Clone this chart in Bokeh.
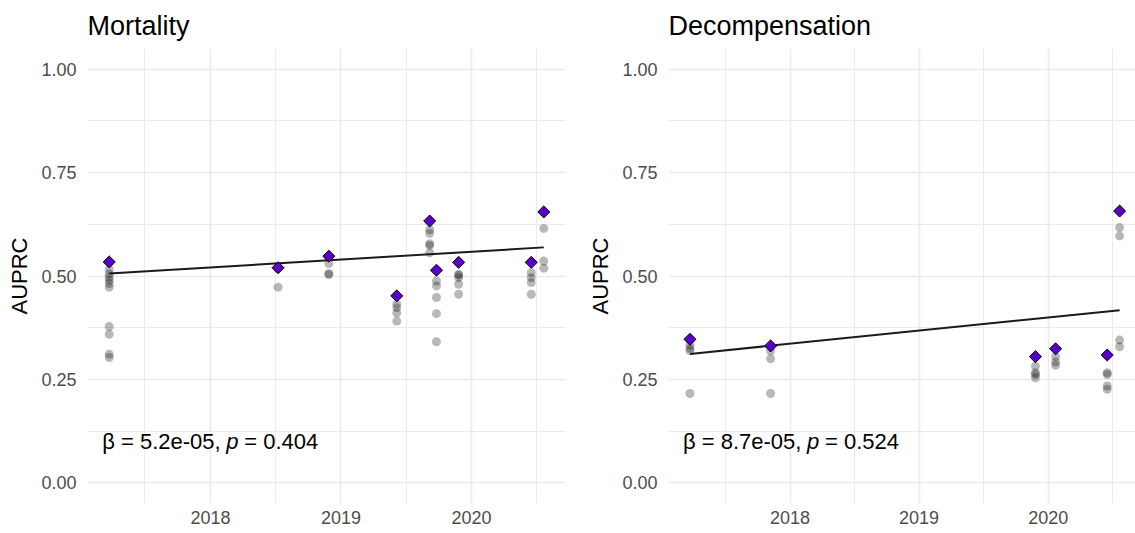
import datetime as dt
import numpy as np
from bokeh.plotting import figure
from bokeh.models import Range1d, FixedTicker, DatetimeTickFormatter, Label, NumeralTickFormatter
from bokeh.layouts import row
from bokeh.embed import file_html
from bokeh.resources import INLINE

# ---------------- data ----------------
mort_dates = ["2017-03-24", "2018-07-09", "2018-11-28", "2019-06-06", "2019-09-06",
              "2019-09-25", "2019-11-26", "2020-06-16", "2020-07-21"]
mort_best = [0.534, 0.520, 0.548, 0.452, 0.633, 0.514, 0.533, 0.533, 0.655]
mort_other = [
    [0.516, 0.505, 0.497, 0.490, 0.482, 0.473, 0.378, 0.359, 0.311, 0.303],
    [0.518, 0.473],
    [0.545, 0.530, 0.506, 0.503],
    [0.432, 0.423, 0.411, 0.391],
    [0.612, 0.603, 0.578, 0.574, 0.556],
    [0.488, 0.476, 0.448, 0.409, 0.341],
    [0.504, 0.502, 0.496, 0.480, 0.456],
    [0.508, 0.496, 0.484, 0.456],
    [0.615, 0.536, 0.519],
]
mort_beta = 5.2e-05
mort_p = 0.404

dec_dates = ["2017-03-24", "2017-11-07", "2019-11-26", "2020-01-22", "2020-06-16", "2020-07-21"]
dec_best = [0.347, 0.331, 0.305, 0.324, 0.309, 0.657]
dec_other = [
    [0.333, 0.325, 0.319, 0.216],
    [0.319, 0.300, 0.216],
    [0.282, 0.266, 0.262, 0.254],
    [0.305, 0.292, 0.284],
    [0.266, 0.262, 0.234, 0.226],
    [0.617, 0.597, 0.345, 0.329],
]
dec_beta = 8.7e-05
dec_p = 0.524

year_ticks = ["2018-01-01", "2019-01-01", "2020-01-01"]
year_minor = ["2017-07-02", "2018-07-02", "2019-07-02", "2020-07-02"]
y_ticks = [0.0, 0.25, 0.5, 0.75, 1.0]
y_minor = [0.125, 0.375, 0.625, 0.875]

FONT = "Liberation Sans"
GRID = "#EBEBEB"
PURPLE = "#5B00C9"
EPOCH = dt.datetime(1970, 1, 1)
DAY_MS = 86400000.0


def ms(s):
    return (dt.datetime.fromisoformat(s) - EPOCH).total_seconds() * 1000.0


def make_panel(title, dates, best, other, beta, pval, width, border_left, border_right, end_frac):
    t = np.array([ms(d) for d in dates])
    span = t.max() - t.min()
    p = figure(width=width, height=533, x_axis_type="datetime",
               output_backend="svg", toolbar_location=None,
               min_border_left=border_left, min_border_right=border_right,
               min_border_top=47, min_border_bottom=30,
               x_range=Range1d(t.min() - 0.05 * span, t.max() + end_frac * span),
               y_range=Range1d(-0.05, 1.05))
    p.outline_line_color = None
    p.background_fill_color = "white"
    p.border_fill_color = "white"

    p.title.text = title
    p.title.text_font = FONT
    p.title.text_font_size = "27px"
    p.title.text_font_style = "normal"
    p.title.text_color = "black"
    p.title.standoff = 16

    p.xaxis.ticker = FixedTicker(ticks=[ms(d) for d in year_ticks],
                                 minor_ticks=[ms(d) for d in year_minor])
    fmt = "%Y"
    p.xaxis.formatter = DatetimeTickFormatter(
        years=fmt, months=fmt, days=fmt, hours=fmt, minutes=fmt, seconds=fmt,
        milliseconds=fmt, microseconds=fmt, hourmin=fmt, minsec=fmt)
    p.yaxis.ticker = FixedTicker(ticks=y_ticks, minor_ticks=y_minor)
    p.yaxis.formatter = NumeralTickFormatter(format="0.00")
    for ax in (p.xaxis[0], p.yaxis[0]):
        ax.axis_line_color = None
        ax.major_tick_line_color = None
        ax.minor_tick_line_color = None
        ax.major_tick_out = 0
        ax.minor_tick_out = 0
        ax.major_tick_in = 0
        ax.minor_tick_in = 0
        ax.major_label_text_font = FONT
        ax.major_label_text_font_size = "18px"
        ax.major_label_text_color = "#4D4D4D"
    p.xaxis.major_label_standoff = 7
    p.yaxis.major_label_standoff = 11
    p.yaxis.axis_label = "AUPRC"
    p.yaxis.axis_label_text_font = FONT
    p.yaxis.axis_label_text_font_size = "22px"
    p.yaxis.axis_label_text_font_style = "normal"
    p.yaxis.axis_label_text_color = "black"
    p.yaxis.axis_label_standoff = 6

    for g in (p.xgrid[0], p.ygrid[0]):
        g.grid_line_color = GRID
        g.grid_line_width = 1.6
        g.minor_grid_line_color = GRID
        g.minor_grid_line_width = 1.0

    # all other models (grey points)
    gx, gy = [], []
    for ti, vals in zip(t, other):
        gx += [ti] * len(vals)
        gy += vals
    p.scatter(gx, gy, size=9, fill_color="black", fill_alpha=0.28, line_color=None)

    # regression line with the reported slope through the mean of the best models
    days = (t - t.mean()) / DAY_MS
    yb = np.array(best)
    fit = yb.mean() + beta * days
    p.line([t.min(), t.max()], [fit[np.argmin(t)], fit[np.argmax(t)]],
           line_color="#1A1A1A", line_width=2)

    # best model per date
    p.scatter(t, best, marker="square", angle=np.pi / 4, size=8.5,
              fill_color=PURPLE, line_color="black", line_width=1)

    # annotation
    x0 = t.min()
    common = dict(x=x0, y=0.1, text_font=FONT, text_font_size="22px",
                  text_color="black", text_baseline="middle", text_align="left")
    p.add_layout(Label(text=f"\u03b2 = {beta:.1e},", x_offset=-7, **common))
    p.add_layout(Label(text="p", x_offset=117, text_font_style="italic", **common))
    p.add_layout(Label(text=f"= {pval:.3f}", x_offset=135, **common))
    return p


p1 = make_panel("Mortality", mort_dates, mort_best, mort_other, mort_beta, mort_p,
                width=585, border_left=87, border_right=20, end_frac=0.05)
p2 = make_panel("Decompensation", dec_dates, dec_best, dec_other, dec_beta, dec_p,
                width=550, border_left=78, border_right=0, end_frac=0.037)

layout = row(p1, p2)
open("out.html", "w").write(file_html(layout, INLINE))
